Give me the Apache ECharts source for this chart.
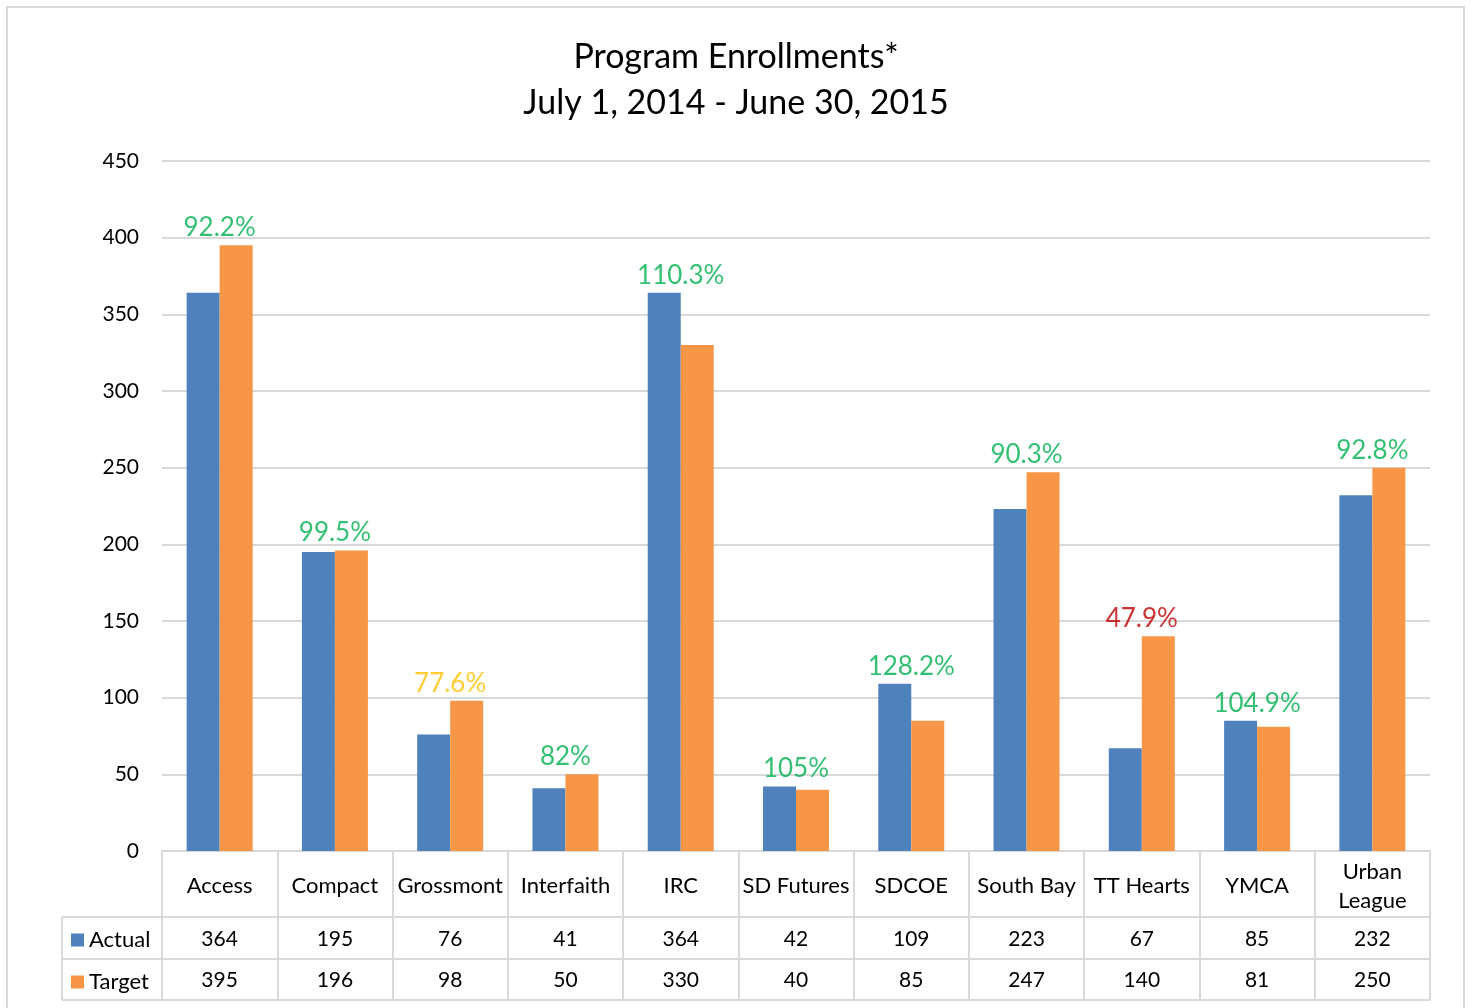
<!DOCTYPE html>
<html>
<head>
<meta charset="utf-8">
<script src="https://cdn.jsdelivr.net/npm/echarts@6/dist/echarts.min.js"></script>
<style>
  html, body { margin: 0; padding: 0; background: #fff; }
  #chart { width: 1472px; height: 1008px; }
</style>
</head>
<body>
<div id="chart"></div>
<script>
// data
const categories = ['Access', 'Compact', 'Grossmont', 'Interfaith', 'IRC', 'SD Futures', 'SDCOE', 'South Bay', 'TT Hearts', 'YMCA', 'Urban\nLeague']
const actualValues = [364, 195, 76, 41, 364, 42, 109, 223, 67, 85, 232]
const targetValues = [395, 196, 98, 50, 330, 40, 85, 247, 140, 81, 250]
const percentLabels = ['92.2%', '99.5%', '77.6%', '82%', '110.3%', '105%', '128.2%', '90.3%', '47.9%', '104.9%', '92.8%']
const yTicks = [0, 50, 100, 150, 200, 250, 300, 350, 400, 450]

const FONT = 'Lato'
const GRID_COLOR = '#d9d9d9'

// colour of the % label: red below 60%, amber below 80%, green otherwise
const pctColor = (i) => {
    const r = actualValues[i] / targetValues[i]
    if (r < 0.6) return '#C00000'
    if (r < 0.8) return '#FFC000'
    return '#00B050'
}

const labelPoints = categories.map((c, i) => ({
    value: Math.max(actualValues[i], targetValues[i]),
    label: { formatter: percentLabels[i], color: pctColor(i) }
}))

const chart = echarts.init(document.getElementById('chart'))

// shared look for the data-table axes below the plot
const tableAxis = (offset, tickLen, rowLabels) => ({
    type: 'category',
    data: categories,
    position: 'bottom',
    offset: offset,
    axisLine: { show: true, lineStyle: { color: GRID_COLOR, width: 2 } },
    axisTick: { show: true, interval: 0, length: tickLen, lineStyle: { color: GRID_COLOR, width: 2 } },
    axisLabel: {
        show: rowLabels != null,
        interval: 0,
        margin: tickLen / 2 + 1,
        verticalAlign: 'middle',
        fontFamily: FONT,
        fontSize: 21,
        color: '#000',
        formatter: (v, i) => rowLabels ? String(rowLabels[i]) : ''
    },
    splitLine: { show: false }
})

chart.setOption({
    animation: false,
    title: {
        text: 'Program Enrollments*\nJuly 1, 2014 - June 30, 2015',
        left: 'center',
        top: 29,
        textStyle: {
            fontFamily: FONT,
            fontSize: 34,
            fontWeight: 'normal',
            color: '#000',
            lineHeight: 46
        }
    },
    legend: {
        data: ['Actual', 'Target'],
        orient: 'vertical',
        left: 66,
        top: 924,
        itemWidth: 13,
        itemHeight: 13,
        itemGap: 20,
        icon: 'rect',
        textStyle: { fontFamily: FONT, fontSize: 22, color: '#000' }
    },
    grid: { left: 162, right: 42, top: 161, bottom: 157 },
    xAxis: [
        {
            type: 'category',
            data: categories,
            position: 'bottom',
            axisLine: { show: true, lineStyle: { color: GRID_COLOR, width: 2 } },
            axisTick: { show: true, interval: 0, length: 66, lineStyle: { color: GRID_COLOR, width: 2 } },
            axisLabel: {
                interval: 0,
                margin: 35,
                verticalAlign: 'middle',
                fontFamily: FONT,
                fontSize: 22,
                lineHeight: 29,
                color: '#000'
            }
        },
        tableAxis(66, 42, actualValues),
        tableAxis(108, 41, targetValues),
        tableAxis(149, 0, null)
    ],
    yAxis: {
        type: 'value',
        min: 0,
        max: 450,
        interval: 50,
        axisLine: { show: false },
        axisTick: { show: false },
        axisLabel: {
            margin: 23,
            fontFamily: FONT,
            fontSize: 21,
            color: '#000',
            formatter: (v) => yTicks.includes(v) ? String(v) : ''
        },
        splitLine: { lineStyle: { color: GRID_COLOR, width: 2 } }
    },
    series: [
        {
            name: 'Actual',
            type: 'bar',
            data: actualValues,
            barWidth: 33,
            barGap: '0%',
            itemStyle: { color: '#4F81BD' }
        },
        {
            name: 'Target',
            type: 'bar',
            data: targetValues,
            barWidth: 33,
            itemStyle: { color: '#F79646' }
        },
        {
            // achievement % over each pair of bars
            name: 'pct',
            type: 'scatter',
            data: labelPoints,
            symbolSize: 1,
            itemStyle: { color: 'rgba(0,0,0,0)' },
            z: 5,
            label: {
                show: true,
                position: 'top',
                distance: 4,
                fontFamily: FONT,
                fontSize: 26
            }
        }
    ],
    graphic: [
        // outer chart border
        { type: 'rect', shape: { x: 7, y: 7, width: 1457, height: 1010 }, style: { fill: null, stroke: GRID_COLOR, lineWidth: 2 }, silent: true },
        // left part of the data table (legend column)
        { type: 'line', shape: { x1: 62, y1: 917, x2: 162, y2: 917 }, style: { stroke: GRID_COLOR, lineWidth: 2 } },
        { type: 'line', shape: { x1: 62, y1: 959, x2: 162, y2: 959 }, style: { stroke: GRID_COLOR, lineWidth: 2 } },
        { type: 'line', shape: { x1: 62, y1: 1000, x2: 162, y2: 1000 }, style: { stroke: GRID_COLOR, lineWidth: 2 } },
        { type: 'line', shape: { x1: 62, y1: 917, x2: 62, y2: 1000 }, style: { stroke: GRID_COLOR, lineWidth: 2 } }
    ]
})
</script>
</body>
</html>
